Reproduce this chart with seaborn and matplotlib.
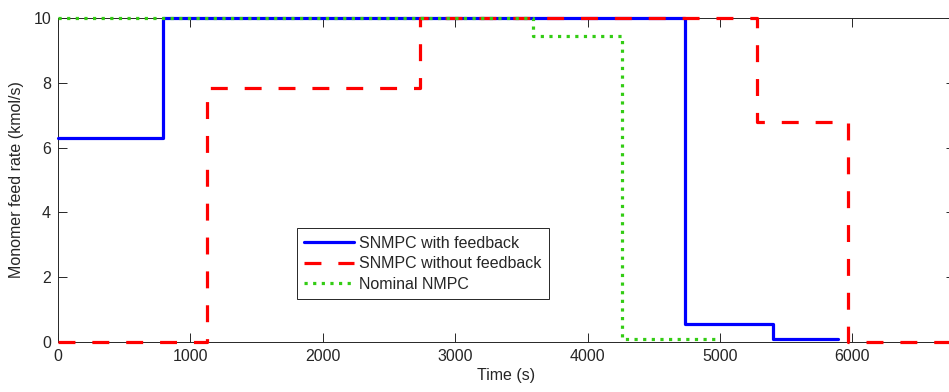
import seaborn as sns
import pandas as pd
from matplotlib import pyplot as plt

# step profiles (time in s, feed rate in kmol/s)
fb_time = [0, 793, 4736, 5398, 5893]
fb_rate = [6.3, 10, 0.55, 0.1, 0.1]
nofb_time = [0, 1125, 2734, 5280, 5964, 7000]
nofb_rate = [0, 7.85, 10, 6.8, 0, 0]
nom_time = [0, 3590, 4262, 4985]
nom_rate = [10, 9.45, 0.1, 0.1]

x_ticks = [0, 1000, 2000, 3000, 4000, 5000, 6000]
y_ticks = [0, 2, 4, 6, 8, 10]

sns.set_theme(style="ticks")
plt.rcParams["font.family"] = ["Liberation Sans", "DejaVu Sans"]

fig = plt.figure(figsize=(9.49, 3.92), dpi=100)
ax = fig.add_axes([58 / 949, 50 / 392, 897 / 949, 324 / 392])

series = [
    ("SNMPC with feedback", fb_time, fb_rate, (0, 0, 1), "-"),
    ("SNMPC without feedback", nofb_time, nofb_rate, (1, 0, 0), (0, (5.3, 5.3))),
    ("Nominal NMPC", nom_time, nom_rate, (0.2, 0.8, 0.08), (0, (1.0, 1.7))),
]

for i, (name, t, v, col, ls) in enumerate(series):
    df = pd.DataFrame({"t": t, "v": v})
    sns.lineplot(data=df, x="t", y="v", ax=ax, drawstyle="steps-post",
                 estimator=None, sort=False, color=col, linestyle=ls,
                 linewidth=2.3, label=name, clip_on=False, zorder=3 + i)

ax.set_xlim(0, 6775)
ax.set_ylim(0, 10)
ax.set_xticks(x_ticks)
ax.set_yticks(y_ticks)
ax.tick_params(direction="in", length=6.5, width=0.7, colors="0.15",
               labelsize=11.5, top=True, right=True, pad=5)
for sp in ax.spines.values():
    sp.set_visible(True)
    sp.set_color("0.15")
    sp.set_linewidth(0.7)

ax.set_xlabel("Time (s)", fontsize=11.5, color="0.15", labelpad=3)
ax.set_ylabel("Monomer feed rate (kmol/s)", fontsize=11.5, color="0.15", labelpad=7)

leg = ax.legend(loc="lower left", bbox_to_anchor=(0.2664, 0.1327),
                borderaxespad=0, fontsize=11.5, handlelength=3.1,
                handletextpad=0.35, borderpad=0.45, labelspacing=0.35,
                fancybox=False, framealpha=1)
leg.get_frame().set_edgecolor("0.15")
leg.get_frame().set_linewidth(0.7)

fig.savefig("out.png", dpi=100)
